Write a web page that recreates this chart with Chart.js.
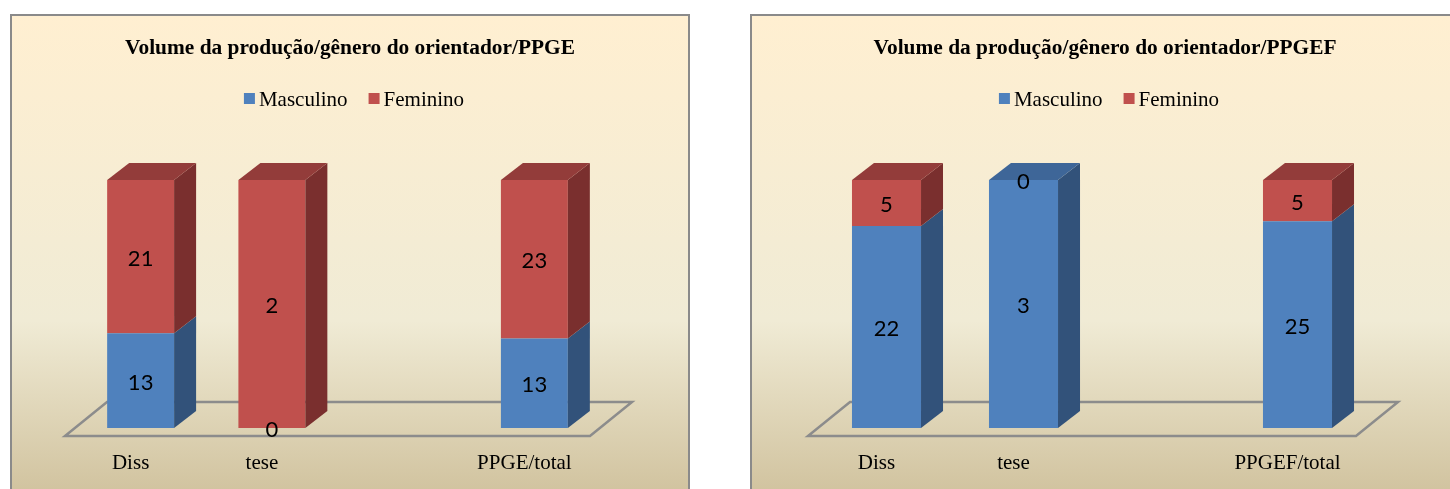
<!DOCTYPE html>
<html>
<head>
<meta charset="utf-8">
<script src="https://cdn.jsdelivr.net/npm/chart.js@4.4.1/dist/chart.umd.min.js"></script>
<style>
  html, body { margin: 0; padding: 0; background: #ffffff; width: 1450px; height: 489px; overflow: hidden; }
  .panel {
    position: absolute; top: 14px; height: 480px; box-sizing: border-box;
    border: 2px solid #8a8a8a;
    background: linear-gradient(to bottom, #ffefd1 0%, #f0ebd5 64%, #d1c39f 100%);
  }
  #p1 { left: 10px; width: 680px; }
  #p2 { left: 750px; width: 710px; }
  canvas { display: block; }
</style>
</head>
<body>
<div class="panel" id="p1"><canvas id="c1" width="676" height="476"></canvas></div>
<div class="panel" id="p2"><canvas id="c2" width="706" height="476"></canvas></div>
<script>
// Categories (the third slot is an empty gap on the category axis)
const categoriesPPGE = ['Diss', 'tese', '', 'PPGE/total'];
const categoriesPPGEF = ['Diss', 'tese', '', 'PPGEF/total'];
const seriesNames = ['Masculino', 'Feminino'];

// Counts per supervisor gender
const ppgeMasculino = [13, 0, null, 13];
const ppgeFeminino = [21, 2, null, 23];
const ppgefMasculino = [22, 3, null, 25];
const ppgefFeminino = [5, 0, null, 5];

const titlePPGE = 'Volume da produção/gênero do orientador/PPGE';
const titlePPGEF = 'Volume da produção/gênero do orientador/PPGEF';

// Colours: front, side and top faces of the 3D columns
const COLORS = [
  { front: '#4f81bd', side: '#32527a', top: '#3e6698' },
  { front: '#c0504d', side: '#7a2f2e', top: '#933c3a' }
];

// Share of each series in the column total (100% stacked)
function shares(a, b) {
  return a.map((v, i) => (v == null ? null : (v / (v + b[i])) * 100));
}

const SERIF = '"Liberation Serif", "Times New Roman", serif';
const SANS = 'Lato, "Open Sans", sans-serif';

const columns3d = {
  id: 'columns3d',
  beforeDatasetsDraw(chart, args, opts) {
    const ctx = chart.ctx;
    const area = chart.chartArea;
    const y0 = chart.scales.y.getPixelForValue(0);
    const fy = y0 + opts.floorShift.dy;
    const fxL = area.left + opts.floorShift.dx;
    const fxR = area.right + opts.floorShift.dx;
    ctx.save();
    ctx.strokeStyle = '#8c8c8c';
    ctx.lineWidth = 2.5;
    ctx.lineJoin = 'miter';
    ctx.beginPath();
    ctx.moveTo(fxL, fy);
    ctx.lineTo(fxR, fy);
    ctx.lineTo(fxR + opts.floorDepth.dx, fy - opts.floorDepth.dy);
    ctx.lineTo(fxL + opts.floorDepth.dx, fy - opts.floorDepth.dy);
    ctx.closePath();
    ctx.stroke();
    ctx.restore();
  },
  afterDatasetsDraw(chart, args, opts) {
    const ctx = chart.ctx;
    const dx = opts.depth.dx, dy = opts.depth.dy;
    const n = chart.data.labels.length;
    ctx.save();
    for (let i = 0; i < n; i++) {
      let topBar = null, topDs = -1;
      chart.data.datasets.forEach((ds, d) => {
        const el = chart.getDatasetMeta(d).data[i];
        if (!el || ds.data[i] == null) return;
        const p = el.getProps(['x', 'y', 'base', 'width'], true);
        if (Math.abs(p.base - p.y) < 0.5) return;
        const xr = p.x + p.width / 2;
        ctx.fillStyle = COLORS[d].side;
        ctx.beginPath();
        ctx.moveTo(xr, p.y);
        ctx.lineTo(xr + dx, p.y - dy);
        ctx.lineTo(xr + dx, p.base - dy);
        ctx.lineTo(xr, p.base);
        ctx.closePath();
        ctx.fill();
        if (!topBar || p.y < topBar.y) { topBar = p; topDs = d; }
      });
      if (topBar) {
        const xl = topBar.x - topBar.width / 2, xr = topBar.x + topBar.width / 2;
        ctx.fillStyle = COLORS[topDs].top;
        ctx.beginPath();
        ctx.moveTo(xl, topBar.y);
        ctx.lineTo(xl + dx, topBar.y - dy);
        ctx.lineTo(xr + dx, topBar.y - dy);
        ctx.lineTo(xr, topBar.y);
        ctx.closePath();
        ctx.fill();
      }
    }
    // value labels: raw counts centred on each segment's front face
    ctx.fillStyle = '#000000';
    ctx.font = '22px ' + SANS;
    ctx.textAlign = 'center';
    ctx.textBaseline = 'middle';
    chart.data.datasets.forEach((ds, d) => {
      const meta = chart.getDatasetMeta(d);
      opts.counts[d].forEach((v, i) => {
        if (v == null) return;
        const p = meta.data[i].getProps(['x', 'y', 'base'], true);
        ctx.fillText(String(v), p.x, (p.y + p.base) / 2 + 2);
      });
    });
    ctx.restore();
  },
  afterDraw(chart, args, opts) {
    const ctx = chart.ctx;
    const w = chart.width;
    ctx.save();
    ctx.fillStyle = '#000000';
    // title
    ctx.font = 'bold 21.4px ' + SERIF;
    ctx.textAlign = 'center';
    ctx.textBaseline = 'alphabetic';
    ctx.fillText(opts.title, w / 2, 38);
    // legend
    ctx.font = '21px ' + SERIF;
    const box = 11, gapBox = 4, gapItem = 21;
    const widths = seriesNames.map(s => ctx.measureText(s).width);
    const total = widths.reduce((s, v) => s + box + gapBox + v, 0) + gapItem * (seriesNames.length - 1);
    let x = w / 2 + 4 - total / 2;
    ctx.textAlign = 'left';
    seriesNames.forEach((s, d) => {
      ctx.fillStyle = COLORS[d].front;
      ctx.fillRect(x, 77, box, box);
      ctx.fillStyle = '#000000';
      ctx.fillText(s, x + box + gapBox, 90);
      x += box + gapBox + widths[d] + gapItem;
    });
    // category labels under the floor
    const xs = chart.scales.x;
    ctx.textAlign = 'center';
    chart.data.labels.forEach((lab, i) => {
      if (!lab) return;
      ctx.fillText(lab, xs.getPixelForValue(i) + opts.floorShift.dx, 453);
    });
    ctx.restore();
  }
};

function makeChart(id, title, labels, masc, fem, pad, barPct) {
  return new Chart(document.getElementById(id), {
    type: 'bar',
    data: {
      labels: labels,
      datasets: [
        { label: seriesNames[0], data: shares(masc, fem), backgroundColor: COLORS[0].front, borderWidth: 0 },
        { label: seriesNames[1], data: shares(fem, masc), backgroundColor: COLORS[1].front, borderWidth: 0 }
      ]
    },
    options: {
      responsive: false,
      animation: false,
      events: [],
      layout: { padding: pad },
      datasets: { bar: { categoryPercentage: 1.0, barPercentage: barPct } },
      scales: {
        x: { stacked: true, display: false },
        y: { stacked: true, display: false, min: 0, max: 100 }
      },
      plugins: {
        legend: { display: false },
        title: { display: false },
        tooltip: { enabled: false },
        columns3d: {
          title: title,
          counts: [masc, fem],
          depth: { dx: 22, dy: 17 },
          floorShift: { dx: -10, dy: 8 },
          floorDepth: { dx: 42, dy: 34 }
        }
      }
    },
    plugins: [columns3d]
  });
}

makeChart('c1', titlePPGE, categoriesPPGE, ppgeMasculino, ppgeFeminino,
  { left: 63, right: 88, top: 164, bottom: 64 }, 0.51);
makeChart('c2', titlePPGEF, categoriesPPGEF, ppgefMasculino, ppgefFeminino,
  { left: 66, right: 92, top: 164, bottom: 64 }, 0.504);
</script>
</body>
</html>
